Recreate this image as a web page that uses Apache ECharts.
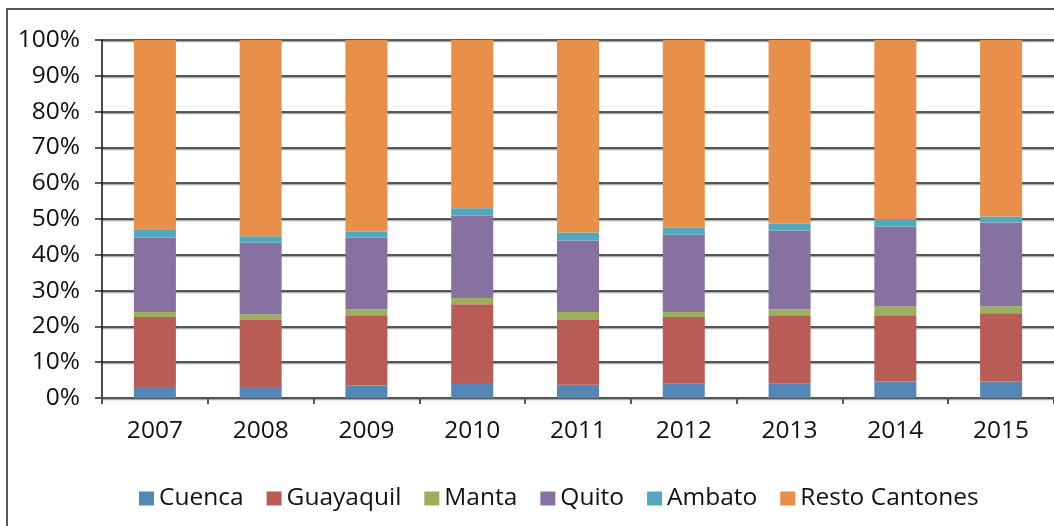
<!DOCTYPE html>
<html>
<head>
<meta charset="utf-8">
<script src="https://cdn.jsdelivr.net/npm/echarts@6/dist/echarts.min.js"></script>
<style>
  html, body { margin: 0; padding: 0; background: #fff; }
  #chart { width: 1054px; height: 526px; }
</style>
</head>
<body>
<div id="chart"></div>
<script>
const years = ['2007', '2008', '2009', '2010', '2011', '2012', '2013', '2014', '2015']
const cuenca = [3.1, 3.1, 3.5, 4.2, 3.7, 4.1, 4.1, 4.6, 4.6]
const guayaquil = [19.5, 18.7, 19.6, 22.0, 18.1, 18.5, 19.0, 18.5, 19.1]
const manta = [1.4, 1.6, 1.7, 1.7, 2.2, 1.4, 1.7, 2.5, 1.9]
const quito = [20.8, 20.0, 20.0, 23.0, 20.0, 21.6, 22.0, 22.3, 23.4]
const ambato = [2.1, 1.8, 1.7, 2.1, 2.2, 2.0, 1.9, 1.9, 1.7]
const resto = [53.1, 54.8, 53.5, 47.0, 53.8, 52.4, 51.3, 50.2, 49.3]

const font = '"Open Sans", "Noto Sans", sans-serif'

function bar (name, data, color) {
  return {
    name,
    type: 'bar',
    stack: 'total',
    barWidth: 42,
    data,
    itemStyle: { color }
  }
}

let myChart = echarts.init(document.getElementById('chart'))
myChart.setOption({
  animation: false,
  textStyle: { fontFamily: font },
  grid: {
    left: 102,
    top: 40,
    width: 958,
    height: 358
  },
  graphic: [{
    type: 'polyline',
    shape: { points: [[7, 560], [7, 9], [1100, 9]] },
    style: { stroke: '#555', lineWidth: 2, fill: null }
  }],
  legend: {
    left: 134,
    top: 481,
    itemWidth: 15,
    itemHeight: 14,
    itemGap: 23,
    icon: 'rect',
    textStyle: { fontSize: 24.5, color: '#111', fontFamily: font }
  },
  xAxis: {
    type: 'category',
    data: years,
    axisLine: { lineStyle: { color: '#555', width: 2 } },
    axisTick: { show: true, length: 6, lineStyle: { color: '#555', width: 2 } },
    axisLabel: { margin: 21, fontSize: 24.5, color: '#111', fontFamily: font }
  },
  yAxis: {
    type: 'value',
    min: 0,
    max: 100,
    interval: 10,
    axisLine: { show: true, lineStyle: { color: '#111', width: 1.5 } },
    axisTick: { show: true, length: 7, lineStyle: { color: '#222', width: 1.5 } },
    axisLabel: { formatter: '{value}%', margin: 22, fontSize: 24.5, color: '#111', fontFamily: font },
    splitLine: {
      lineStyle: { color: '#222', width: 1.5, shadowColor: '#aaa', shadowOffsetY: 1.5, shadowBlur: 0 }
    }
  },
  series: [
    bar('Cuenca', cuenca, '#5486b6'),
    bar('Guayaquil', guayaquil, '#b95c55'),
    bar('Manta', manta, '#9caf5c'),
    bar('Quito', quito, '#8771a0'),
    bar('Ambato', ambato, '#52a9be'),
    bar('Resto Cantones', resto, '#e8904a')
  ]
})
</script>
</body>
</html>
